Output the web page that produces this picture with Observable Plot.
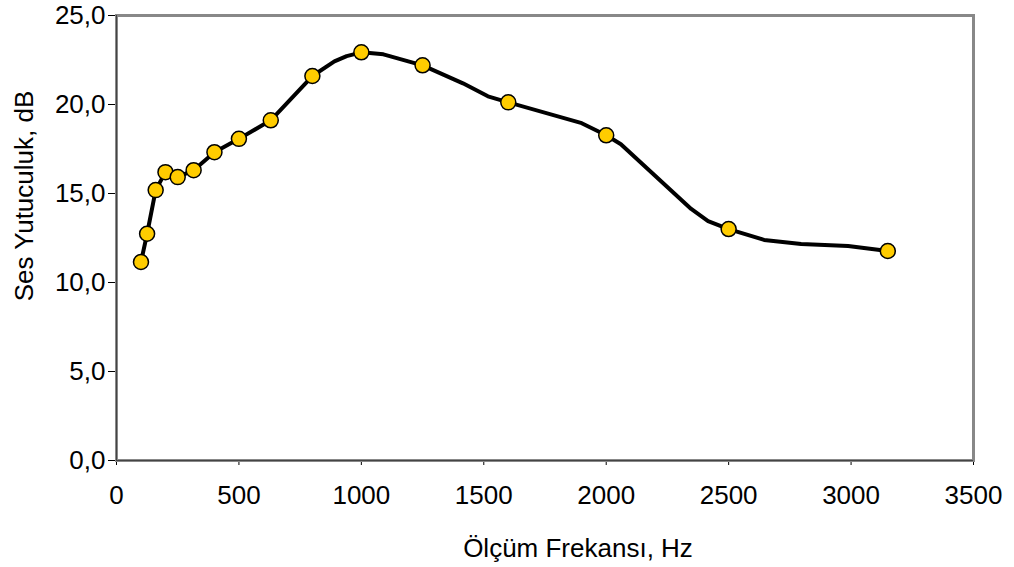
<!DOCTYPE html>
<html>
<head>
<meta charset="utf-8">
<script src="https://cdn.jsdelivr.net/npm/d3@7"></script>
<script src="https://cdn.jsdelivr.net/npm/@observablehq/plot@0.6"></script>
<style>
  html, body { margin: 0; padding: 0; background: white; }
  svg { display: block; }
</style>
</head>
<body>
<div id="chart"></div>
<script>
// Marker data (1/3-octave measurement frequencies)
const markerFreq = [100, 125, 160, 200, 250, 315, 400, 500, 630, 800, 1000, 1250, 1600, 2000, 2500, 3150];
const markerValue = [11.15, 12.74, 15.19, 16.2, 15.92, 16.31, 17.32, 18.07, 19.11, 21.6, 22.93, 22.2, 20.12, 18.27, 13.0, 11.77];

// Points of the drawn curve (incl. bends between markers)
const curveFreq = [100, 125, 160, 200, 250, 315, 400, 500, 630, 800, 890, 940, 1000, 1090, 1250, 1415, 1517, 1600, 1900, 2000, 2060, 2347, 2416, 2500, 2645, 2796, 2988, 3150];
const curveValue = [11.15, 12.74, 15.19, 16.2, 15.92, 16.31, 17.32, 18.07, 19.11, 21.6, 22.42, 22.72, 22.93, 22.82, 22.2, 21.19, 20.46, 20.12, 18.95, 18.27, 17.77, 14.13, 13.45, 13.0, 12.39, 12.16, 12.05, 11.77];

const xTicks = [0, 500, 1000, 1500, 2000, 2500, 3000, 3500];
const yTicks = [0, 5, 10, 15, 20, 25];

const xLabel = "Ölçüm Frekansı, Hz";
const yLabel = "Ses Yutuculuk, dB";

const markers = markerFreq.map((f, i) => ({f, v: markerValue[i]}));
const curve = curveFreq.map((f, i) => ({f, v: curveValue[i]}));

const chart = Plot.plot({
  width: 1014,
  height: 567,
  marginLeft: 116,
  marginRight: 41,
  marginTop: 15,
  marginBottom: 107,
  style: {fontFamily: "'Liberation Sans', Arial, sans-serif", fontSize: "26px", color: "black", background: "white", overflow: "visible"},
  x: {domain: [0, 3500], ticks: xTicks, label: null, tickSize: 5, tickPadding: 20, tickFormat: d => String(d)},
  y: {domain: [0, 25], ticks: yTicks, label: null, tickSize: 8, tickPadding: 3, tickFormat: d => d.toFixed(1).replace(".", ",")},
  marks: [
    Plot.frame({stroke: "#888888", strokeWidth: 3}),
    Plot.ruleX([0], {stroke: "#444", strokeWidth: 1}),
    Plot.ruleY([0], {stroke: "#444", strokeWidth: 1}),
    Plot.line(curve, {x: "f", y: "v", stroke: "black", strokeWidth: 4, strokeLinejoin: "round", curve: "linear"}),
    Plot.dot(markers, {x: "f", y: "v", r: 7.5, fill: "#FFCC00", stroke: "black", strokeWidth: 1.5})
  ]
});

document.getElementById("chart").appendChild(chart);

const svg = d3.select(chart);
svg.append("text")
  .attr("transform", "translate(33,196) rotate(-90)")
  .attr("text-anchor", "middle")
  .attr("fill", "black")
  .style("font-size", "26px")
  .text(yLabel);
svg.append("text")
  .attr("x", 578)
  .attr("y", 557)
  .attr("text-anchor", "middle")
  .attr("fill", "black")
  .style("font-size", "26px")
  .text(xLabel);
</script>
</body>
</html>
